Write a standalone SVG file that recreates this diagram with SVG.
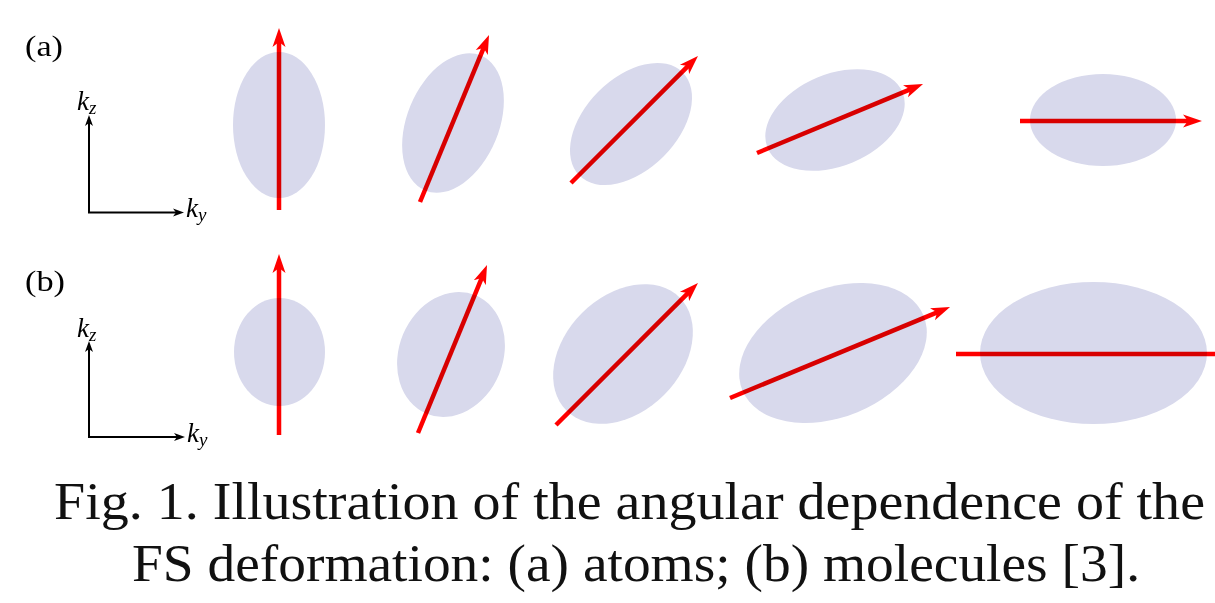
<svg xmlns="http://www.w3.org/2000/svg" width="1215" height="603" viewBox="0 0 1215 603">
<style>
.fs{fill:#d8d9ec;}
.vec{stroke:#ff0000;stroke-width:4.5;fill:none;mix-blend-mode:multiply;}
.ax{stroke:#000;stroke-width:2;fill:none;}
.lbl{font-family:"Liberation Serif","Times New Roman",serif;fill:#000;}
.it{font-family:"Liberation Serif","Times New Roman",serif;font-style:italic;fill:#000;}
.cap{font-family:"Liberation Serif","Times New Roman",serif;font-size:52px;fill:#111;}
</style>
<defs>
<marker id="rh" markerUnits="userSpaceOnUse" markerWidth="22" markerHeight="16" viewBox="0 0 22 16" refX="9" refY="8" orient="auto">
<path d="M0,1.5 L19,8 L0,14.5 L5,8 Z" fill="#ff0000"/>
</marker>
<marker id="kh" markerUnits="userSpaceOnUse" markerWidth="12" markerHeight="10" viewBox="0 0 12 10" refX="4" refY="5" orient="auto">
<path d="M0,1 L11,5 L0,9 L3,5 Z" fill="#000"/>
</marker>
</defs>
<rect width="1215" height="603" fill="#fff"/>

<g id="row-a">
<g id="a-axes">
<line class="ax" x1="89" y1="213" x2="89" y2="122" marker-end="url(#kh)"/>
<line class="ax" x1="88" y1="212.5" x2="177" y2="212.5" marker-end="url(#kh)"/>
<text class="it" x="77" y="110" font-size="27">k<tspan font-size="19" dy="4">z</tspan></text>
<text class="it" x="186" y="217" font-size="27">k<tspan font-size="19" dy="4">y</tspan></text>
</g>
<text id="label-a" class="lbl" x="25" y="56" font-size="30" textLength="38" lengthAdjust="spacingAndGlyphs">(a)</text>
<g id="a1"><ellipse class="fs" cx="279" cy="125" rx="46" ry="73"/></g>
<g id="a2"><ellipse class="fs" cx="0" cy="0" rx="46" ry="73" transform="translate(453,123) rotate(22.5)"/></g>
<g id="a3"><ellipse class="fs" cx="0" cy="0" rx="46" ry="73" transform="translate(631,124) rotate(45)"/></g>
<g id="a4"><ellipse class="fs" cx="0" cy="0" rx="46" ry="73" transform="translate(835,120) rotate(67.5)"/></g>
<g id="a5"><ellipse class="fs" cx="1103" cy="120" rx="73" ry="46"/></g>
</g>

<g id="row-b">
<g id="b-axes">
<line class="ax" x1="89" y1="438" x2="89" y2="348" marker-end="url(#kh)"/>
<line class="ax" x1="88" y1="437" x2="178" y2="437" marker-end="url(#kh)"/>
<text class="it" x="77" y="337" font-size="27">k<tspan font-size="19" dy="4">z</tspan></text>
<text class="it" x="187" y="442" font-size="27">k<tspan font-size="19" dy="4">y</tspan></text>
</g>
<text id="label-b" class="lbl" x="25" y="291" font-size="30" textLength="40" lengthAdjust="spacingAndGlyphs">(b)</text>
<g id="b1"><ellipse class="fs" cx="279.5" cy="352" rx="45.5" ry="54"/></g>
<g id="b2"><ellipse class="fs" cx="0" cy="0" rx="52" ry="64" transform="translate(451,354.5) rotate(22.5)"/></g>
<g id="b3"><ellipse class="fs" cx="0" cy="0" rx="58" ry="80" transform="translate(623,354) rotate(45)"/></g>
<g id="b4"><ellipse class="fs" cx="0" cy="0" rx="64" ry="98" transform="translate(833,353) rotate(67.5)"/></g>
<g id="b5"><ellipse class="fs" cx="1093.5" cy="353" rx="113.5" ry="71"/></g>
</g>

<g id="connectors">
<line class="vec" x1="279" y1="210" x2="279" y2="38" marker-end="url(#rh)"/>
<line class="vec" x1="420" y1="202" x2="485.2" y2="44.2" marker-end="url(#rh)"/>
<line class="vec" x1="571" y1="183" x2="690.9" y2="63.1" marker-end="url(#rh)"/>
<line class="vec" x1="757" y1="153" x2="913.8" y2="87.8" marker-end="url(#rh)"/>
<line class="vec" x1="1020" y1="121" x2="1192" y2="121" marker-end="url(#rh)"/>
<line class="vec" x1="279" y1="435" x2="279" y2="264" marker-end="url(#rh)"/>
<line class="vec" x1="418" y1="433" x2="483.2" y2="274.3" marker-end="url(#rh)"/>
<line class="vec" x1="556" y1="425" x2="690.9" y2="290.1" marker-end="url(#rh)"/>
<line class="vec" x1="730" y1="398" x2="940.8" y2="310.8" marker-end="url(#rh)"/>
<line class="vec" x1="956" y1="354" x2="1222" y2="354"/>
</g>

<g id="caption">
<text class="cap" x="54" y="519" textLength="1151" lengthAdjust="spacingAndGlyphs">Fig. 1. Illustration of the angular dependence of the</text>
<text class="cap" x="132" y="581" textLength="1008" lengthAdjust="spacingAndGlyphs">FS deformation: (a) atoms; (b) molecules [3].</text>
</g>
</svg>
